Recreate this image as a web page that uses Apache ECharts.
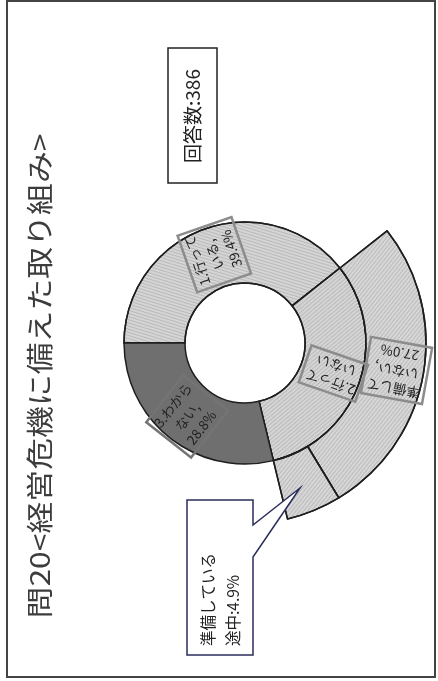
<!DOCTYPE html>
<html>
<head>
<meta charset="utf-8">
<script src="https://cdn.jsdelivr.net/npm/echarts@6.0.0/dist/echarts.min.js"></script>
<style>
  html, body { margin: 0; padding: 0; background: #fff; }
  #main { width: 438px; height: 681px; }
</style>
</head>
<body>
<div id="main"></div>
<script>
// 問20 の回答 (%)
var answers = ['1.行って\nいる', '2.行って\nいない', '3.わから\nない'];
var answerValues = [39.4, 31.9, 28.8];
var showValue = [true, false, true];

// 「2.行っていない」の内訳
var subAnswers = ['準備して\nいない', '準備している\n途中'];
var subValues = [27.0, 4.9];

var titleText = '問20<経営危機に備えた取り組み>';
var countText = '回答数:386';

var total = answerValues.reduce(function (a, b) { return a + b; }, 0);
var FONT = '"Noto Sans CJK JP", "Noto Sans CJK SC", sans-serif';

// 図全体が横倒しなので、ラベルも90度回した向きで半径方向にそろえる
function labelRotate(before, value) {
  var mid = 180 - (before + value / 2) / total * 360;
  var a = mid - 90;
  while (a > 90) a -= 180;
  while (a <= -90) a += 180;
  return a + 90;
}

function hatch(rot) {
  return {
    symbol: 'rect',
    dashArrayX: [1, 0],
    dashArrayY: [1, 2],
    rotation: rot,
    color: 'rgba(0,0,0,0.13)'
  };
}

var labelBase = {
  show: true,
  position: 'inside',
  fontFamily: FONT,
  fontSize: 13.5,
  lineHeight: 18,
  color: '#222',
  align: 'center',
  borderColor: '#8c8c8c',
  borderWidth: 2.5,
  padding: [2, 4, 1, 4]
};

var ringData = [];
var before = 0;
for (var i = 0; i < answers.length; i++) {
  ringData.push({
    name: answers[i],
    value: answerValues[i],
    itemStyle: {
      color: i === 2 ? '#6f6f6f' : '#d5d5d5',
      decal: i === 2 ? null : hatch(i === 0 ? 0.3 : -0.7)
    },
    label: {
      rotate: labelRotate(before, answerValues[i]),
      borderColor: i === 2 ? '#747474' : '#8c8c8c'
    }
  });
  before += answerValues[i];
}

var hidden = { itemStyle: { color: 'rgba(0,0,0,0)', borderWidth: 0 }, label: { show: false } };
var outerData = [Object.assign({ name: '', value: answerValues[0] }, hidden)];
before = answerValues[0];
for (var j = 0; j < subAnswers.length; j++) {
  outerData.push({
    name: subAnswers[j],
    value: subValues[j],
    itemStyle: { color: '#d7d7d7', decal: hatch(-0.9) },
    label: j === 0 ? { rotate: labelRotate(before, subValues[j]) } : { show: false }
  });
  before += subValues[j];
}
outerData.push(Object.assign({ name: '', value: answerValues[2] }, hidden));

var calloutText = subAnswers[1] + ':' + subValues[1].toFixed(1) + '%';

var chart = echarts.init(document.getElementById('main'));
chart.setOption({
  backgroundColor: '#fff',
  animation: false,
  graphic: [
    {
      type: 'rect',
      shape: { x: 7, y: 1, width: 428, height: 676 },
      style: { fill: 'none', stroke: '#444', lineWidth: 2 }
    },
    {
      type: 'text',
      x: 40, y: 376,
      rotation: Math.PI / 2,
      scaleX: 1.18,
      style: {
        text: titleText,
        font: '27px ' + FONT,
        fill: '#3c3c3c',
        textAlign: 'center', align: 'center',
        textVerticalAlign: 'middle', verticalAlign: 'middle'
      }
    },
    {
      type: 'rect',
      shape: { x: 168, y: 48, width: 49, height: 135 },
      style: { fill: '#fff', stroke: '#222', lineWidth: 1.5 }
    },
    {
      type: 'text',
      x: 193, y: 116,
      rotation: Math.PI / 2,
      style: {
        text: countText,
        font: '19px ' + FONT,
        fill: '#222',
        textAlign: 'center', align: 'center',
        textVerticalAlign: 'middle', verticalAlign: 'middle'
      }
    },
    {
      type: 'polygon',
      z: 10,
      shape: {
        points: [[187, 500], [253, 500], [253, 525], [300, 488], [253, 557], [253, 655], [187, 655]]
      },
      style: { fill: '#fff', stroke: '#2b2d5c', lineWidth: 1.5 }
    },
    {
      type: 'text',
      z: 11,
      x: 196, y: 646,
      rotation: Math.PI / 2,
      style: {
        text: calloutText,
        font: '15.5px ' + FONT,
        lineHeight: 25,
        fill: '#222',
        textAlign: 'left', align: 'left',
        textVerticalAlign: 'top', verticalAlign: 'top'
      }
    }
  ],
  series: [
    {
      type: 'pie',
      silent: true,
      center: [245, 343],
      radius: [60, 121],
      startAngle: 180,
      avoidLabelOverlap: false,
      labelLayout: { hideOverlap: false },
      itemStyle: { borderColor: '#1e1e1e', borderWidth: 1.5 },
      label: Object.assign({}, labelBase, {
        formatter: function (p) {
          return showValue[p.dataIndex] ? p.name + ',\n' + p.value.toFixed(1) + '%' : p.name;
        }
      }),
      labelLine: { show: false },
      data: ringData
    },
    {
      type: 'pie',
      silent: true,
      center: [245, 343],
      radius: [121, 181],
      startAngle: 180,
      avoidLabelOverlap: false,
      labelLayout: { hideOverlap: false },
      itemStyle: { borderColor: '#1e1e1e', borderWidth: 1.5 },
      label: Object.assign({}, labelBase, {
        formatter: function (p) {
          return p.name + ',\n' + p.value.toFixed(1) + '%';
        }
      }),
      labelLine: { show: false },
      data: outerData
    }
  ]
});
</script>
</body>
</html>
